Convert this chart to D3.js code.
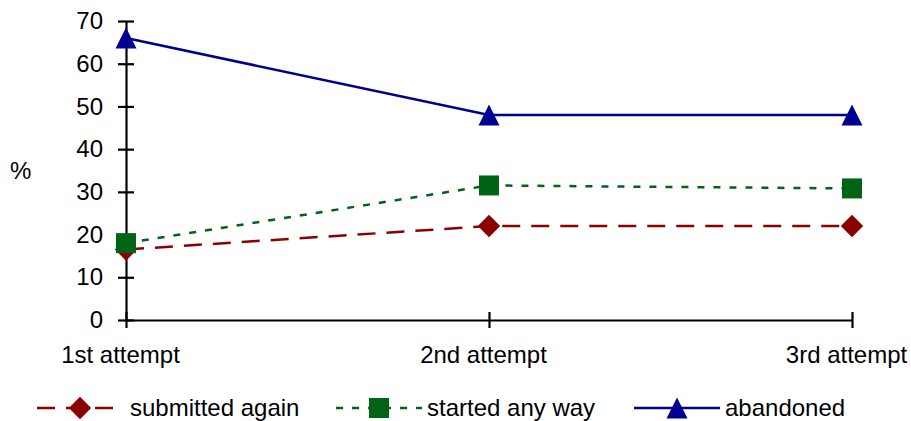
<!DOCTYPE html>
<html>
<head>
<meta charset="utf-8">
<script src="https://d3js.org/d3.v7.min.js"></script>
<style>
  body { margin: 0; background: #fff; }
  text { font-family: "Liberation Sans", Arial, sans-serif; fill: #000; }
</style>
</head>
<body>
<svg width="911" height="421"></svg>
<script>
var categories = ["1st attempt", "2nd attempt", "3rd attempt"];
var submittedAgain = [16.5, 22, 22];
var startedAnyWay = [18, 31.5, 30.8];
var abandoned = [66, 48, 48];
var yTicks = [0, 10, 20, 30, 40, 50, 60, 70];

var series = [
  {name: "submitted again", values: submittedAgain, color: "#8b0000", dash: "18,11", marker: "diamond"},
  {name: "started any way", values: startedAnyWay, color: "#006414", dash: "7,9", marker: "square"},
  {name: "abandoned", values: abandoned, color: "#000090", dash: null, marker: "triangle"}
];

var svg = d3.select("svg");
var x = d3.scalePoint().domain(categories).range([126, 852]);
var y = d3.scaleLinear().domain([0, 70]).range([320, 21]);
var fs = 24;

// y axis
var yAxis = svg.append("g").attr("transform", "translate(126,0)")
  .call(d3.axisLeft(y).tickValues(yTicks).tickSizeInner(8).tickSizeOuter(0));
yAxis.select(".domain").attr("stroke-width", 2.2);
yAxis.selectAll(".tick line").attr("x2", 8).attr("x1", -8).attr("stroke-width", 2.2);
yAxis.selectAll(".tick text").attr("font-size", fs).attr("x", -23)
  .style("font-family", "Liberation Sans, Arial, sans-serif");

// x axis
var xAxis = svg.append("g").attr("transform", "translate(0,320)")
  .call(d3.axisBottom(x).tickSizeInner(8).tickSizeOuter(0));
xAxis.select(".domain").attr("stroke-width", 2.2);
xAxis.selectAll(".tick line").attr("y1", -8).attr("y2", 8).attr("stroke-width", 2.2);
xAxis.selectAll(".tick text").attr("font-size", fs).attr("y", 26).attr("x", -6)
  .style("font-family", "Liberation Sans, Arial, sans-serif");

svg.append("text").attr("x", 10).attr("y", 179).attr("font-size", fs).text("%");

var symbols = {
  diamond: d3.symbol().type(d3.symbolSquare).size(250),
  square: d3.symbol().type(d3.symbolSquare).size(400),
  triangle: function() { return "M0,-10.5L10.5,10.5L-10.5,10.5Z"; }
};

function drawMarker(g, s, cx, cy) {
  var p = g.append("path").attr("d", symbols[s.marker]()).attr("fill", s.color);
  if (s.marker === "diamond") p.attr("transform", "translate(" + cx + "," + cy + ") rotate(45)");
  else p.attr("transform", "translate(" + cx + "," + cy + ")");
}

var line = d3.line().x(function(d, i) { return x(categories[i]); }).y(function(d) { return y(d); });

series.forEach(function(s) {
  svg.append("path").datum(s.values)
    .attr("d", line).attr("fill", "none").attr("stroke", s.color)
    .attr("stroke-width", 2.5).attr("stroke-dasharray", s.dash);
  var g = svg.append("g");
  s.values.forEach(function(v, i) { drawMarker(g, s, x(categories[i]), y(v)); });
});

// legend
var legendX = [37, 336, 634];
var legendY = 408;
series.forEach(function(s, i) {
  var lx = legendX[i];
  svg.append("line").attr("x1", lx).attr("x2", lx + 86).attr("y1", legendY).attr("y2", legendY)
    .attr("stroke", s.color).attr("stroke-width", 2.5).attr("stroke-dasharray", s.dash);
  drawMarker(svg, s, lx + 43, legendY);
  svg.append("text").attr("x", lx + (i === 0 ? 93 : 91)).attr("y", legendY + 8).attr("font-size", fs).text(s.name);
});
</script>
</body>
</html>
